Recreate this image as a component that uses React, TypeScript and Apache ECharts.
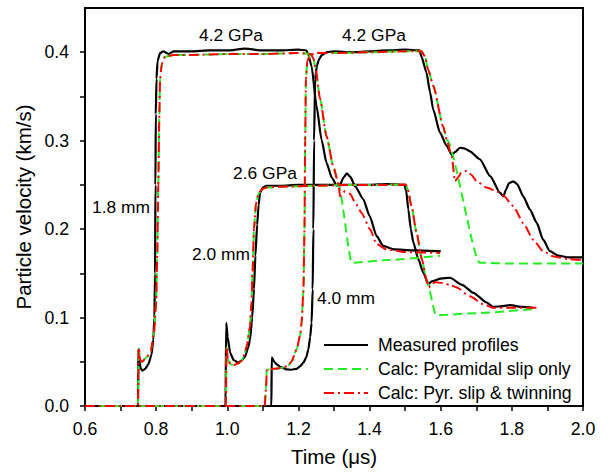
import React, { useEffect, useRef } from "react";
import * as echarts from "echarts";

// Tick / label values
const xTickValues = [0.6, 0.7, 0.8, 0.9, 1.0, 1.1, 1.2, 1.3, 1.4, 1.5, 1.6, 1.7, 1.8, 1.9, 2.0];
const xLabelValues = [0.6, 0.8, 1.0, 1.2, 1.4, 1.6, 1.8, 2.0];
const yTickValues = [0, 0.05, 0.1, 0.15, 0.2, 0.25, 0.3, 0.35, 0.4];
const yLabelValues = [0, 0.1, 0.2, 0.3, 0.4];

const seriesNames = ["Measured profiles", "Calc: Pyramidal slip only", "Calc: Pyr. slip & twinning"];

// 1.8 mm, 4.2 GPa
const measured18 = [
  [0.6, 0], [0.749, 0], [0.75, 0.064], [0.753, 0.05], [0.757, 0.042], [0.762, 0.04], [0.769, 0.042],
  [0.778, 0.047], [0.787, 0.058], [0.792, 0.075], [0.795, 0.1], [0.797, 0.15], [0.798, 0.25],
  [0.799, 0.33], [0.801, 0.37], [0.804, 0.39], [0.811, 0.399], [0.82, 0.401], [0.835, 0.398],
  [0.85, 0.401], [0.9, 0.401], [0.95, 0.402], [1.0, 0.402], [1.05, 0.404], [1.1, 0.402],
  [1.15, 0.402], [1.2, 0.403], [1.222, 0.402], [1.228, 0.397], [1.237, 0.384], [1.251, 0.339],
  [1.265, 0.301], [1.279, 0.275], [1.294, 0.258], [1.308, 0.249], [1.318, 0.251], [1.326, 0.258],
  [1.336, 0.263], [1.346, 0.259], [1.36, 0.248], [1.382, 0.234], [1.4, 0.215], [1.42, 0.192],
  [1.438, 0.181], [1.47, 0.177], [1.52, 0.176], [1.6, 0.175],
];
const calcCommon18 = [
  [0.6, 0], [0.749, 0], [0.751, 0.066], [0.755, 0.052], [0.76, 0.05], [0.773, 0.055], [0.785, 0.062],
  [0.794, 0.083], [0.8, 0.117], [0.803, 0.17], [0.806, 0.25], [0.809, 0.33], [0.811, 0.37],
  [0.816, 0.387], [0.825, 0.395], [0.85, 0.397], [0.9, 0.397], [1.0, 0.398], [1.1, 0.398],
  [1.2, 0.399], [1.235, 0.398], [1.242, 0.393], [1.247, 0.384], [1.261, 0.347], [1.279, 0.305],
  [1.298, 0.271], [1.312, 0.252],
];
const pyrTail18 = [[1.35, 0.162], [1.45, 0.165], [1.598, 0.17]];
const twinTail18 = [
  [1.317, 0.237], [1.324, 0.241], [1.331, 0.243], [1.345, 0.24], [1.361, 0.229], [1.378, 0.218],
  [1.401, 0.2], [1.42, 0.183], [1.448, 0.177], [1.5, 0.174], [1.598, 0.173],
];

// 2.0 mm, 2.6 GPa
const measured20 = [
  [0.6, 0], [0.995, 0], [0.997, 0.094], [1.001, 0.078], [1.008, 0.06], [1.018, 0.052], [1.031, 0.049],
  [1.042, 0.052], [1.05, 0.056], [1.058, 0.065], [1.064, 0.075], [1.07, 0.1], [1.075, 0.132],
  [1.079, 0.17], [1.084, 0.205], [1.088, 0.227], [1.092, 0.241], [1.1, 0.247], [1.11, 0.249],
  [1.15, 0.249], [1.2, 0.25], [1.3, 0.25], [1.4, 0.25], [1.45, 0.251], [1.498, 0.25], [1.503, 0.243],
  [1.509, 0.222], [1.516, 0.2], [1.523, 0.185], [1.537, 0.166], [1.551, 0.151], [1.565, 0.1375],
  [1.575, 0.141], [1.6, 0.144], [1.626, 0.145], [1.66, 0.137], [1.692, 0.128], [1.729, 0.117],
  [1.748, 0.112], [1.775, 0.113], [1.795, 0.114], [1.83, 0.112], [1.86, 0.111],
];
const calcCommon20 = [
  [0.6, 0], [0.996, 0], [0.998, 0.066], [1.002, 0.052], [1.01, 0.047], [1.017, 0.046], [1.03, 0.048],
  [1.04, 0.051], [1.048, 0.058], [1.055, 0.068], [1.064, 0.09], [1.068, 0.117], [1.071, 0.15],
  [1.075, 0.2], [1.081, 0.23], [1.088, 0.24], [1.097, 0.245], [1.11, 0.247], [1.15, 0.248],
  [1.25, 0.249], [1.35, 0.25], [1.45, 0.25], [1.502, 0.2505], [1.507, 0.245], [1.518, 0.226],
  [1.532, 0.196], [1.547, 0.166], [1.56, 0.143],
];
const pyrTail20 = [[1.587, 0.1025], [1.7, 0.105], [1.87, 0.11]];
const twinTail20 = [
  [1.567, 0.134], [1.573, 0.138], [1.585, 0.14], [1.607, 0.139], [1.625, 0.137], [1.645, 0.134],
  [1.682, 0.124], [1.72, 0.115], [1.748, 0.111], [1.8, 0.111], [1.87, 0.111],
];

// 4.0 mm, 4.2 GPa
const measured40 = [
  [0.6, 0], [1.124, 0], [1.125, 0.055], [1.132, 0.05], [1.139, 0.047], [1.15, 0.044], [1.167, 0.0415],
  [1.18, 0.041], [1.195, 0.042], [1.205, 0.045], [1.214, 0.049], [1.222, 0.055], [1.228, 0.064],
  [1.233, 0.078], [1.237, 0.094], [1.24, 0.132], [1.242, 0.2], [1.244, 0.3], [1.247, 0.37],
  [1.252, 0.385], [1.258, 0.392], [1.266, 0.397], [1.28, 0.4], [1.3, 0.401], [1.35, 0.4],
  [1.4, 0.401], [1.45, 0.402], [1.5, 0.403], [1.54, 0.402], [1.546, 0.395], [1.56, 0.377],
  [1.57, 0.355], [1.579, 0.335], [1.598, 0.309], [1.617, 0.294], [1.631, 0.284], [1.64, 0.287],
  [1.654, 0.292], [1.668, 0.291], [1.682, 0.288], [1.71, 0.279], [1.739, 0.26], [1.767, 0.241],
  [1.776, 0.237], [1.784, 0.245], [1.792, 0.252], [1.804, 0.254], [1.815, 0.251], [1.832, 0.237],
  [1.851, 0.222], [1.87, 0.207], [1.888, 0.188], [1.907, 0.175], [1.93, 0.17], [1.96, 0.168],
  [2.0, 0.168],
];
const calcCommon40 = [
  [0.6, 0], [1.105, 0], [1.109, 0.02], [1.111, 0.041], [1.13, 0.042], [1.15, 0.043], [1.17, 0.045],
  [1.18, 0.05], [1.195, 0.064], [1.205, 0.08], [1.209, 0.095], [1.214, 0.13], [1.217, 0.2],
  [1.219, 0.3], [1.221, 0.37], [1.225, 0.39], [1.233, 0.397], [1.25, 0.399], [1.3, 0.399],
  [1.4, 0.4], [1.5, 0.401], [1.546, 0.401], [1.556, 0.395], [1.565, 0.38], [1.579, 0.362],
  [1.607, 0.316], [1.617, 0.301],
];
const pyrTail40 = [[1.71, 0.162], [1.8, 0.161], [2.0, 0.161]];
const twinTail40 = [
  [1.631, 0.282], [1.64, 0.254], [1.648, 0.258], [1.658, 0.264], [1.673, 0.266], [1.687, 0.261],
  [1.701, 0.254], [1.729, 0.247], [1.757, 0.243], [1.776, 0.238], [1.804, 0.226], [1.832, 0.207],
  [1.86, 0.188], [1.888, 0.175], [1.917, 0.169], [1.96, 0.166], [2.0, 0.165],
];

const FONT = "'Liberation Sans', Arial, sans-serif";

export default function App() {
  const ref = useRef<HTMLDivElement>(null);
  useEffect(() => {
    if (!ref.current) return;
    const chart = echarts.init(ref.current, undefined, { renderer: "svg" });

    const black = (data: number[][]) => ({
      type: "line", name: seriesNames[0], data, symbol: "none", showSymbol: false,
      smooth: 0.2, smoothMonotone: "x",
      lineStyle: { color: "#000", width: 2.2, type: "solid" }, itemStyle: { color: "#000" }, z: 2,
    });
    const green = (data: number[][]) => ({
      type: "line", name: seriesNames[1], data, symbol: "none", showSymbol: false,
      smooth: 0.2, smoothMonotone: "x",
      lineStyle: { color: "#22ee22", width: 2, type: [9, 5] }, itemStyle: { color: "#22ee22" }, z: 3,
    });
    const red = (data: number[][]) => ({
      type: "line", name: seriesNames[2], data, symbol: "none", showSymbol: false,
      smooth: 0.2, smoothMonotone: "x",
      lineStyle: { color: "#ff0000", width: 2, type: [10, 4, 2, 4] }, itemStyle: { color: "#ff0000" }, z: 4,
    });

    const txt = (s: string, x: number, y: number) => ({
      type: "text", x, y,
      style: { text: s, fill: "#000", font: `17.4px ${FONT}`, align: "center", verticalAlign: "middle" },
    });

    chart.setOption({
      animation: false,
      backgroundColor: "#fff",
      textStyle: { fontFamily: FONT },
      grid: { left: 85, right: 26, top: 8, bottom: 65, show: true, borderColor: "#000", borderWidth: 2, backgroundColor: "transparent" },
      xAxis: {
        type: "value", min: 0.6, max: 2.0, interval: 0.2,
        name: "Time (\u03bcs)", nameLocation: "middle", nameGap: 40,
        nameTextStyle: { fontSize: 20.5, color: "#000", fontFamily: FONT },
        axisLine: { show: true, lineStyle: { color: "#000", width: 2 } },
        axisTick: { show: true, inside: false, length: 5, lineStyle: { color: "#000", width: 1.5 }, customValues: xTickValues },
        axisLabel: { fontSize: 17.7, color: "#000", margin: 14, customValues: xLabelValues, formatter: (v: number) => v.toFixed(1) },
        splitLine: { show: false },
      },
      yAxis: {
        type: "value", min: 0, max: 0.45, interval: 0.1,
        name: "Particle velocity (km/s)", nameLocation: "middle", nameGap: 45,
        nameTextStyle: { fontSize: 20.5, color: "#000", fontFamily: FONT },
        axisLine: { show: true, lineStyle: { color: "#000", width: 2 } },
        axisTick: { show: true, inside: false, length: 5, lineStyle: { color: "#000", width: 1.5 }, customValues: yTickValues },
        axisLabel: { fontSize: 17.7, color: "#000", margin: 16, customValues: yLabelValues, formatter: (v: number) => v.toFixed(1) },
        splitLine: { show: false },
      },
      legend: {
        show: true, orient: "vertical", left: 323, top: 336, padding: 0,
        itemWidth: 44, itemHeight: 14, itemGap: 6,
        data: seriesNames,
        itemStyle: { opacity: 0, borderWidth: 0 },
        textStyle: { fontSize: 17.7, color: "#000", fontFamily: FONT, padding: [0, 0, 0, 5] },
      },
      graphic: [
        txt("4.2 GPa", 231, 35),
        txt("4.2 GPa", 374, 35),
        txt("2.6 GPa", 265, 173),
        txt("1.8 mm", 121, 207),
        txt("2.0 mm", 221, 254),
        txt("4.0 mm", 346, 298),
      ],
      series: [
        black(measured18), black(measured20), black(measured40),
        green([...calcCommon18, ...pyrTail18]), green([...calcCommon20, ...pyrTail20]), green([...calcCommon40, ...pyrTail40]),
        red([...calcCommon18, ...twinTail18]), red([...calcCommon20, ...twinTail20]), red([...calcCommon40, ...twinTail40]),
      ],
    });
    return () => chart.dispose();
  }, []);
  return <div ref={ref} style={{ position: "absolute", left: 0, top: 0, width: 609, height: 472 }} />;
}
